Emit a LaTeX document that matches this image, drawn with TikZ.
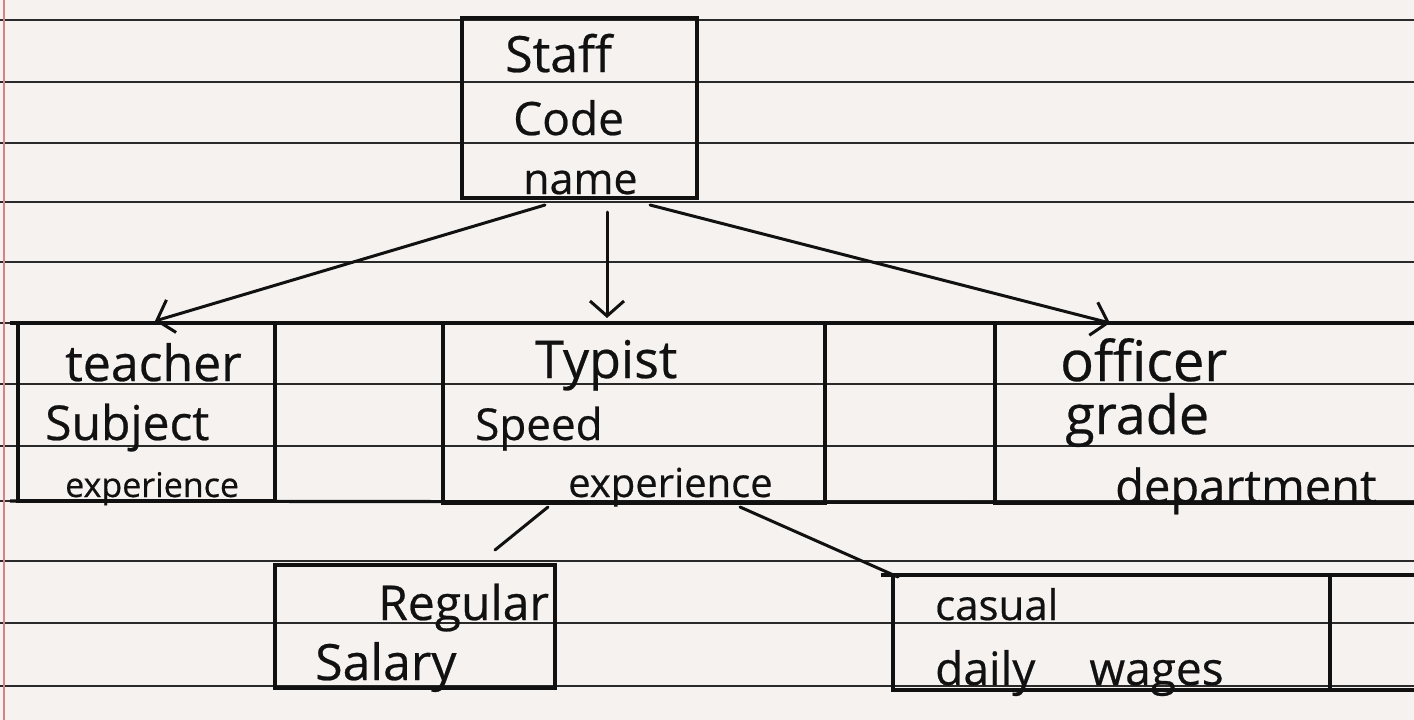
\documentclass[tikz,border=0pt]{standalone}
\usepackage{fontspec}
\setmainfont{Open Sans}
\newfontfamily\handfont{Open Sans}[FakeBold=0.5]
\usetikzlibrary{arrows.meta,calc}
\definecolor{paper}{HTML}{F6F2F0}
\definecolor{ink}{HTML}{111111}
\definecolor{rulecol}{HTML}{2A2A2A}
\definecolor{margincol}{HTML}{D98088}
\tikzset{
  ruled/.style={draw=rulecol, line width=1.9pt},
  box/.style={draw=ink, line width=3.2pt, inner sep=0pt, outer sep=0pt},
  boxline/.style={draw=ink, line width=3.2pt},
  hw/.style={inner sep=0pt, anchor=base west, text=ink, font=\handfont\fontsize{#1}{#1}\selectfont},
  conn/.style={draw=ink, line width=3pt, line cap=round},
  arr/.style={conn, -{Straight Barb[length=15pt,width=34pt]}}
}
\begin{document}
\begin{tikzpicture}[x=1pt,y=-1pt]
\fill[paper] (0,0) rectangle (1414,720);
\useasboundingbox (0,0) rectangle (1414,720);
% ruled paper
\foreach \yy in {20,82,143,202,262,323,384,446,501,561,623,686}
  \draw[ruled] (0,\yy) -- (1414,\yy);
\draw[margincol, line width=1.2pt] (4,0) -- (4,720);

% boxes
\node[box, minimum width=235pt, minimum height=180pt] (staff) at (579.5,108) {};
\node[box, minimum width=257pt, minimum height=178pt] (teacher) at (146.5,412) {};
\node[box, minimum width=382pt, minimum height=180pt] (typist) at (634,413) {};
\node[box, minimum width=430pt, minimum height=180pt] (officer) at (1210,413) {};
\node[box, minimum width=280pt, minimum height=123pt] (regular) at (415,626.5) {};
\node[box, minimum width=437pt, minimum height=115pt] (casual) at (1111.5,632.5) {};

% row band lines
\draw[boxline] ($(teacher.north west)+(-8,0)$) -- (officer.north east);
\draw[boxline] ($(teacher.south west)+(-8,0)$) -- (officer.south east);
\draw[boxline] ($(casual.north west)+(-12,0)$) -- ($(casual.north east)+(90,0)$);
\draw[boxline] (casual.south east) -- ++(90,0);

% texts
\node[hw=50] (tstaff) at (505,72) {Staff};
\node[hw=46] (tcode) at (513,135) {Code};
\node[hw=43] (tname) at (523,194) {name};
\node[hw=50] (tteacher) at (65,381) {teacher};
\node[hw=48] (tsubject) at (45,440) {Subject};
\node[hw=34] (texp1) at (65,497) {experience};
\node[hw=52] (ttypist) at (535,378) {Typist};
\node[hw=44] (tspeed) at (475,440) {Speed};
\node[hw=40] (texp2) at (568,497) {experience};
\node[hw=56] (tofficer) at (1060,381) {officer};
\node[hw=54] (tgrade) at (1065,434) {grade};
\node[hw=47] (tdept) at (1115,503) {department};
\node[hw=48] (tregular) at (378,620) {Regular};
\node[hw=50] (tsalary) at (315,680) {Salary};
\node[hw=42] (tcasual) at (935,620) {casual};
\node[hw=46] (tdaily) at (935,685) {daily\hspace{54pt}wages};

% connectors
\draw[arr] ($(staff.south west)+(83,7)$) -- ($(teacher.north west)+(137,-2)$);
\draw[arr] ($(staff.south west)+(145,14)$) -- ($(typist.north west)+(164,-5)$);
\draw[arr] ($(staff.south west)+(188,7)$) -- ($(officer.north west)+(115,0)$);
\draw[conn] ($(typist.south west)+(105,4)$) -- ($(regular.north west)+(220,-15)$);
\draw[conn] ($(typist.south west)+(297,4)$) -- ($(casual.north west)+(5,2)$);
\end{tikzpicture}
\end{document}
